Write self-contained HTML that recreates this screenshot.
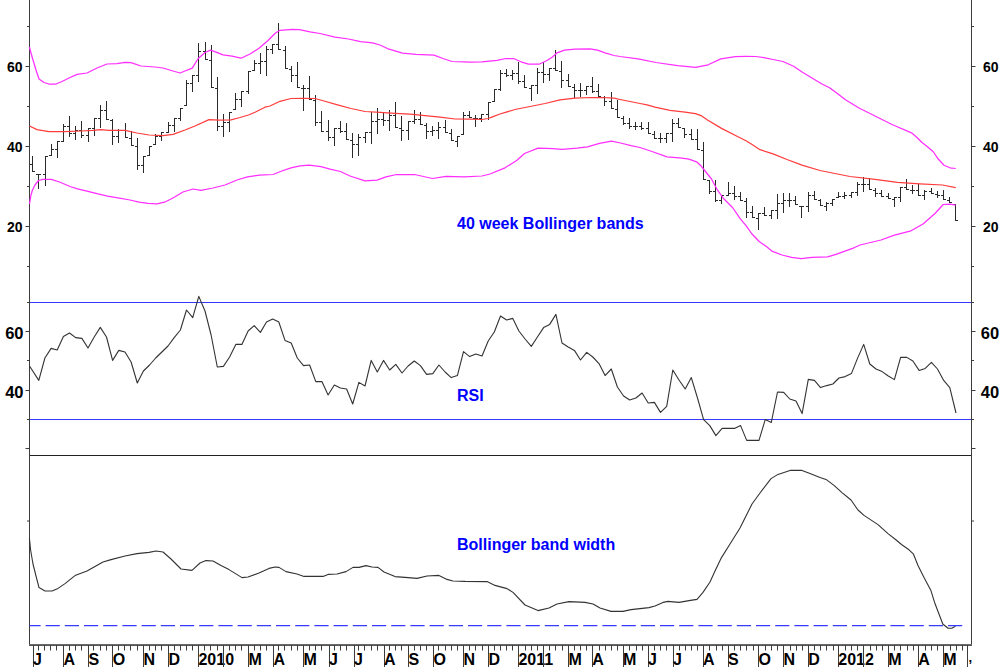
<!DOCTYPE html>
<html><head><meta charset="utf-8"><style>
html,body{margin:0;padding:0;background:#fff;width:1000px;height:667px;overflow:hidden}
svg{display:block}
text{font-family:"Liberation Sans",Arial,sans-serif;font-weight:bold;fill:#000}
.pl{font-size:14px}
.rl{font-size:16.5px}
.xl{font-size:16px}
.tt{font-size:16px;fill:#0000ff}
</style></head><body>
<svg width="1000" height="667" viewBox="0 0 1000 667">
<line x1="29.5" y1="0" x2="29.5" y2="644.5" stroke="#3c3c3c" stroke-width="1"/>
<line x1="971.5" y1="0" x2="971.5" y2="644.5" stroke="#3c3c3c" stroke-width="1"/>
<rect x="29" y="644" width="943" height="1" fill="#6a6a6a"/><rect x="29" y="645" width="943" height="1" fill="#555"/>
<line x1="30" y1="302.5" x2="971" y2="302.5" stroke="#3838ff" stroke-width="1"/>
<line x1="30" y1="419.5" x2="971" y2="419.5" stroke="#3838ff" stroke-width="1"/>
<line x1="30" y1="455.5" x2="971" y2="455.5" stroke="#222" stroke-width="1"/>
<text x="22.6" y="72.3" class="pl" text-anchor="end">60</text>
<text x="983" y="72.3" class="pl">60</text>
<text x="22.6" y="152.3" class="pl" text-anchor="end">40</text>
<text x="983" y="152.3" class="pl">40</text>
<text x="22.6" y="232.3" class="pl" text-anchor="end">20</text>
<text x="983" y="232.3" class="pl">20</text>
<line x1="27" y1="26.5" x2="29" y2="26.5" stroke="#3c3c3c"/><line x1="972" y1="26.5" x2="974" y2="26.5" stroke="#3c3c3c"/><line x1="25.5" y1="66.5" x2="29" y2="66.5" stroke="#3c3c3c"/><line x1="972" y1="66.5" x2="975.5" y2="66.5" stroke="#3c3c3c"/><line x1="27" y1="106.5" x2="29" y2="106.5" stroke="#3c3c3c"/><line x1="972" y1="106.5" x2="974" y2="106.5" stroke="#3c3c3c"/><line x1="25.5" y1="146.5" x2="29" y2="146.5" stroke="#3c3c3c"/><line x1="972" y1="146.5" x2="975.5" y2="146.5" stroke="#3c3c3c"/><line x1="27" y1="186.5" x2="29" y2="186.5" stroke="#3c3c3c"/><line x1="972" y1="186.5" x2="974" y2="186.5" stroke="#3c3c3c"/><line x1="25.5" y1="226.5" x2="29" y2="226.5" stroke="#3c3c3c"/><line x1="972" y1="226.5" x2="975.5" y2="226.5" stroke="#3c3c3c"/><line x1="27" y1="266.5" x2="29" y2="266.5" stroke="#3c3c3c"/><line x1="972" y1="266.5" x2="974" y2="266.5" stroke="#3c3c3c"/>
<line x1="27" y1="302.5" x2="29" y2="302.5" stroke="#3c3c3c"/>
<line x1="972" y1="302.5" x2="974" y2="302.5" stroke="#3c3c3c"/>
<line x1="25.5" y1="331.5" x2="29" y2="331.5" stroke="#3c3c3c"/>
<line x1="972" y1="331.5" x2="975.5" y2="331.5" stroke="#3c3c3c"/>
<text x="23.5" y="338.8" class="rl" text-anchor="end">60</text>
<text x="980.8" y="338.8" class="rl">60</text>
<line x1="27" y1="360.5" x2="29" y2="360.5" stroke="#3c3c3c"/>
<line x1="972" y1="360.5" x2="974" y2="360.5" stroke="#3c3c3c"/>
<line x1="25.5" y1="390.5" x2="29" y2="390.5" stroke="#3c3c3c"/>
<line x1="972" y1="390.5" x2="975.5" y2="390.5" stroke="#3c3c3c"/>
<text x="23.5" y="397.8" class="rl" text-anchor="end">40</text>
<text x="980.8" y="397.8" class="rl">40</text>
<line x1="27" y1="419.5" x2="29" y2="419.5" stroke="#3c3c3c"/>
<line x1="972" y1="419.5" x2="974" y2="419.5" stroke="#3c3c3c"/>
<line x1="25.5" y1="448.5" x2="29" y2="448.5" stroke="#3c3c3c"/>
<line x1="972" y1="448.5" x2="975.5" y2="448.5" stroke="#3c3c3c"/>
<line x1="27" y1="521" x2="29" y2="521" stroke="#3c3c3c"/><line x1="972" y1="521" x2="974" y2="521" stroke="#3c3c3c"/>
<line x1="33.5" y1="645" x2="33.5" y2="667" stroke="#3c3c3c"/>
<text x="33.00" y="665" class="xl">J</text>
<line x1="63.5" y1="645" x2="63.5" y2="667" stroke="#3c3c3c"/>
<text x="63.45" y="665" class="xl">A</text>
<line x1="88.5" y1="645" x2="88.5" y2="667" stroke="#3c3c3c"/>
<text x="88.45" y="665" class="xl">S</text>
<line x1="112.5" y1="645" x2="112.5" y2="667" stroke="#3c3c3c"/>
<text x="112.70" y="665" class="xl">O</text>
<line x1="143.5" y1="645" x2="143.5" y2="667" stroke="#3c3c3c"/>
<text x="143.45" y="665" class="xl">N</text>
<line x1="168.5" y1="645" x2="168.5" y2="667" stroke="#3c3c3c"/>
<text x="168.45" y="665" class="xl">D</text>
<line x1="198.5" y1="645" x2="198.5" y2="667" stroke="#3c3c3c"/>
<text x="198.45" y="665" class="xl">2010</text>
<line x1="223.5" y1="645" x2="223.5" y2="667" stroke="#3c3c3c"/>
<line x1="248.5" y1="645" x2="248.5" y2="667" stroke="#3c3c3c"/>
<text x="248.45" y="665" class="xl">M</text>
<line x1="273.5" y1="645" x2="273.5" y2="667" stroke="#3c3c3c"/>
<text x="273.45" y="665" class="xl">A</text>
<line x1="303.5" y1="645" x2="303.5" y2="667" stroke="#3c3c3c"/>
<text x="303.45" y="665" class="xl">M</text>
<line x1="329.5" y1="645" x2="329.5" y2="667" stroke="#3c3c3c"/>
<text x="328.95" y="665" class="xl">J</text>
<line x1="354.5" y1="645" x2="354.5" y2="667" stroke="#3c3c3c"/>
<text x="353.95" y="665" class="xl">J</text>
<line x1="384.5" y1="645" x2="384.5" y2="667" stroke="#3c3c3c"/>
<text x="383.95" y="665" class="xl">A</text>
<line x1="408.5" y1="645" x2="408.5" y2="667" stroke="#3c3c3c"/>
<text x="408.45" y="665" class="xl">S</text>
<line x1="433.5" y1="645" x2="433.5" y2="667" stroke="#3c3c3c"/>
<text x="433.45" y="665" class="xl">O</text>
<line x1="463.5" y1="645" x2="463.5" y2="667" stroke="#3c3c3c"/>
<text x="463.45" y="665" class="xl">N</text>
<line x1="488.5" y1="645" x2="488.5" y2="667" stroke="#3c3c3c"/>
<text x="488.45" y="665" class="xl">D</text>
<line x1="518.5" y1="645" x2="518.5" y2="667" stroke="#3c3c3c"/>
<text x="518.45" y="665" class="xl">2011</text>
<line x1="543.5" y1="645" x2="543.5" y2="667" stroke="#3c3c3c"/>
<line x1="568.5" y1="645" x2="568.5" y2="667" stroke="#3c3c3c"/>
<text x="568.45" y="665" class="xl">M</text>
<line x1="592.5" y1="645" x2="592.5" y2="667" stroke="#3c3c3c"/>
<text x="592.20" y="665" class="xl">A</text>
<line x1="623.5" y1="645" x2="623.5" y2="667" stroke="#3c3c3c"/>
<text x="622.95" y="665" class="xl">M</text>
<line x1="648.5" y1="645" x2="648.5" y2="667" stroke="#3c3c3c"/>
<text x="647.95" y="665" class="xl">J</text>
<line x1="673.5" y1="645" x2="673.5" y2="667" stroke="#3c3c3c"/>
<text x="672.95" y="665" class="xl">J</text>
<line x1="703.5" y1="645" x2="703.5" y2="667" stroke="#3c3c3c"/>
<text x="702.95" y="665" class="xl">A</text>
<line x1="728.5" y1="645" x2="728.5" y2="667" stroke="#3c3c3c"/>
<text x="727.95" y="665" class="xl">S</text>
<line x1="758.5" y1="645" x2="758.5" y2="667" stroke="#3c3c3c"/>
<text x="758.45" y="665" class="xl">O</text>
<line x1="783.5" y1="645" x2="783.5" y2="667" stroke="#3c3c3c"/>
<text x="783.45" y="665" class="xl">N</text>
<line x1="808.5" y1="645" x2="808.5" y2="667" stroke="#3c3c3c"/>
<text x="808.30" y="665" class="xl">D</text>
<line x1="838.5" y1="645" x2="838.5" y2="667" stroke="#3c3c3c"/>
<text x="838.30" y="665" class="xl">2012</text>
<line x1="863.5" y1="645" x2="863.5" y2="667" stroke="#3c3c3c"/>
<line x1="888.5" y1="645" x2="888.5" y2="667" stroke="#3c3c3c"/>
<text x="888.30" y="665" class="xl">M</text>
<line x1="918.5" y1="645" x2="918.5" y2="667" stroke="#3c3c3c"/>
<text x="918.30" y="665" class="xl">A</text>
<line x1="943.5" y1="645" x2="943.5" y2="667" stroke="#3c3c3c"/>
<text x="943.30" y="665" class="xl">M</text>
<line x1="967.5" y1="645" x2="967.5" y2="667" stroke="#3c3c3c"/>
<path d="M38.5 645V650.5 M44.5 645V650.5 M50.5 645V650.5 M56.5 645V650.5 M69.5 645V650.5 M75.5 645V650.5 M81.5 645V650.5 M93.5 645V650.5 M100.5 645V650.5 M106.5 645V650.5 M118.5 645V650.5 M124.5 645V650.5 M130.5 645V650.5 M137.5 645V650.5 M149.5 645V650.5 M155.5 645V650.5 M161.5 645V650.5 M174.5 645V650.5 M180.5 645V650.5 M186.5 645V650.5 M192.5 645V650.5 M204.5 645V650.5 M210.5 645V650.5 M217.5 645V650.5 M229.5 645V650.5 M235.5 645V650.5 M241.5 645V650.5 M254.5 645V650.5 M260.5 645V650.5 M266.5 645V650.5 M278.5 645V650.5 M284.5 645V650.5 M291.5 645V650.5 M297.5 645V650.5 M309.5 645V650.5 M315.5 645V650.5 M321.5 645V650.5 M334.5 645V650.5 M340.5 645V650.5 M346.5 645V650.5 M358.5 645V650.5 M364.5 645V650.5 M371.5 645V650.5 M377.5 645V650.5 M389.5 645V650.5 M395.5 645V650.5 M401.5 645V650.5 M414.5 645V650.5 M420.5 645V650.5 M426.5 645V650.5 M438.5 645V650.5 M445.5 645V650.5 M451.5 645V650.5 M457.5 645V650.5 M469.5 645V650.5 M475.5 645V650.5 M482.5 645V650.5 M494.5 645V650.5 M500.5 645V650.5 M506.5 645V650.5 M512.5 645V650.5 M525.5 645V650.5 M531.5 645V650.5 M537.5 645V650.5 M549.5 645V650.5 M555.5 645V650.5 M562.5 645V650.5 M574.5 645V650.5 M580.5 645V650.5 M586.5 645V650.5 M599.5 645V650.5 M605.5 645V650.5 M611.5 645V650.5 M617.5 645V650.5 M629.5 645V650.5 M636.5 645V650.5 M642.5 645V650.5 M654.5 645V650.5 M660.5 645V650.5 M666.5 645V650.5 M679.5 645V650.5 M685.5 645V650.5 M691.5 645V650.5 M697.5 645V650.5 M709.5 645V650.5 M716.5 645V650.5 M722.5 645V650.5 M734.5 645V650.5 M740.5 645V650.5 M746.5 645V650.5 M753.5 645V650.5 M765.5 645V650.5 M771.5 645V650.5 M777.5 645V650.5 M790.5 645V650.5 M796.5 645V650.5 M802.5 645V650.5 M814.5 645V650.5 M820.5 645V650.5 M826.5 645V650.5 M833.5 645V650.5 M845.5 645V650.5 M851.5 645V650.5 M857.5 645V650.5 M870.5 645V650.5 M876.5 645V650.5 M882.5 645V650.5 M894.5 645V650.5 M900.5 645V650.5 M907.5 645V650.5 M913.5 645V650.5 M925.5 645V650.5 M931.5 645V650.5 M937.5 645V650.5 M950.5 645V650.5 M956.5 645V650.5 M962.5 645V650.5" stroke="#3c3c3c" stroke-width="1" fill="none"/>
<text x="968.6" y="662.3" class="xl" style="font-size:13px">,</text>
<path d="M32.5 156V172M30.0 164.5H32.5M32.5 171.5H35.0M38.5 174V189M36.0 174.5H38.5M38.5 174.5H41.0M45.5 156V186M43.0 174.5H45.5M45.5 156.5H48.0M51.5 144V156M49.0 155.5H51.5M51.5 149.5H54.0M57.5 141V158M55.0 149.5H57.5M57.5 141.5H60.0M63.5 124V142M61.0 141.5H63.5M63.5 126.5H66.0M69.5 116V137M67.0 126.5H69.5M69.5 133.5H72.0M75.5 126V140M73.0 133.5H75.5M75.5 130.5H78.0M81.5 121V138M79.0 130.5H81.5M81.5 135.5H84.0M88.5 128V142M86.0 135.5H88.5M88.5 128.5H91.0M94.5 118V136M92.0 128.5H94.5M94.5 118.5H97.0M100.5 105V128M98.0 118.5H100.5M100.5 110.5H103.0M106.5 101V120M104.0 110.5H106.5M106.5 119.5H109.0M112.5 119V145M110.0 120.5H112.5M112.5 136.5H115.0M118.5 129V143M116.0 136.5H118.5M118.5 130.5H121.0M125.5 123V138M123.0 130.5H125.5M125.5 137.5H128.0M131.5 131V146M129.0 138.5H131.5M131.5 145.5H134.0M137.5 138V170M135.0 146.5H137.5M137.5 165.5H140.0M143.5 156V173M141.0 165.5H143.5M143.5 156.5H146.0M149.5 146V156M147.0 155.5H149.5M149.5 146.5H152.0M155.5 134V145M153.0 144.5H155.5M155.5 136.5H158.0M161.5 132V141M159.0 136.5H161.5M161.5 132.5H164.0M168.5 122V133M166.0 132.5H168.5M168.5 125.5H171.0M174.5 118V132M172.0 125.5H174.5M174.5 118.5H177.0M180.5 108V121M178.0 118.5H180.5M180.5 108.5H183.0M186.5 80V106M184.0 105.5H186.5M186.5 83.5H189.0M192.5 75V92M190.0 83.5H192.5M192.5 75.5H195.0M198.5 43V82M196.0 75.5H198.5M198.5 51.5H201.0M205.5 42V60M203.0 51.5H205.5M205.5 59.5H208.0M211.5 45V88M209.0 60.5H211.5M211.5 87.5H214.0M217.5 77V131M215.0 88.5H217.5M217.5 126.5H220.0M223.5 114V137M221.0 126.5H223.5M223.5 122.5H226.0M229.5 112V132M227.0 122.5H229.5M229.5 112.5H232.0M235.5 93V110M233.0 109.5H235.5M235.5 99.5H238.0M241.5 91V107M239.0 99.5H241.5M241.5 91.5H244.0M248.5 71V94M246.0 91.5H248.5M248.5 71.5H251.0M254.5 60V71M252.0 70.5H254.5M254.5 63.5H257.0M260.5 53V74M258.0 63.5H260.5M260.5 61.5H263.0M266.5 46V76M264.0 61.5H266.5M266.5 49.5H269.0M272.5 44V54M270.0 49.5H272.5M272.5 44.5H275.0M278.5 23V50M276.0 44.5H278.5M278.5 49.5H281.0M285.5 46V69M283.0 50.5H285.5M285.5 68.5H288.0M291.5 66V82M289.0 69.5H291.5M291.5 75.5H294.0M297.5 62V88M295.0 75.5H297.5M297.5 87.5H300.0M303.5 85V111M301.0 88.5H303.5M303.5 88.5H306.0M309.5 76V100M307.0 88.5H309.5M309.5 99.5H312.0M315.5 95V126M313.0 100.5H315.5M315.5 122.5H318.0M321.5 111V132M319.0 122.5H321.5M321.5 131.5H324.0M328.5 120V141M326.0 131.5H328.5M328.5 137.5H331.0M334.5 128V146M332.0 137.5H334.5M334.5 128.5H337.0M340.5 121V133M338.0 128.5H340.5M340.5 131.5H343.0M346.5 123V140M344.0 131.5H346.5M346.5 139.5H349.0M352.5 133V158M350.0 140.5H352.5M352.5 144.5H355.0M358.5 134V156M356.0 144.5H358.5M358.5 137.5H361.0M365.5 132V143M363.0 137.5H365.5M365.5 132.5H368.0M371.5 112V144M369.0 132.5H371.5M371.5 121.5H374.0M377.5 108V134M375.0 121.5H377.5M377.5 119.5H380.0M383.5 112V126M381.0 119.5H383.5M383.5 120.5H386.0M389.5 110V131M387.0 120.5H389.5M389.5 115.5H392.0M395.5 102V128M393.0 115.5H395.5M395.5 127.5H398.0M401.5 116V141M399.0 128.5H401.5M401.5 130.5H404.0M408.5 121V140M406.0 130.5H408.5M408.5 121.5H411.0M414.5 110V124M412.0 121.5H414.5M414.5 119.5H417.0M420.5 112V125M418.0 119.5H420.5M420.5 124.5H423.0M426.5 123V139M424.0 125.5H426.5M426.5 131.5H429.0M432.5 126V136M430.0 131.5H432.5M432.5 130.5H435.0M438.5 122V139M436.0 130.5H438.5M438.5 127.5H441.0M445.5 120V133M443.0 127.5H445.5M445.5 132.5H448.0M451.5 129V141M449.0 133.5H451.5M451.5 140.5H454.0M457.5 136V147M455.0 141.5H457.5M457.5 136.5H460.0M463.5 112V135M461.0 134.5H463.5M463.5 115.5H466.0M469.5 111V118M467.0 115.5H469.5M469.5 117.5H472.0M475.5 115V127M473.0 118.5H475.5M475.5 118.5H478.0M481.5 114V122M479.0 118.5H481.5M481.5 114.5H484.0M488.5 102V120M486.0 114.5H488.5M488.5 102.5H491.0M494.5 89V102M492.0 101.5H494.5M494.5 89.5H497.0M500.5 70V91M498.0 89.5H500.5M500.5 73.5H503.0M506.5 69V77M504.0 73.5H506.5M506.5 75.5H509.0M512.5 70V80M510.0 75.5H512.5M512.5 73.5H515.0M518.5 62V84M516.0 73.5H518.5M518.5 81.5H521.0M524.5 75V88M522.0 81.5H524.5M524.5 87.5H527.0M531.5 85V101M529.0 88.5H531.5M531.5 85.5H534.0M537.5 68V94M535.0 85.5H537.5M537.5 72.5H540.0M543.5 62V83M541.0 72.5H543.5M543.5 74.5H546.0M549.5 68V81M547.0 74.5H549.5M549.5 68.5H552.0M555.5 50V71M553.0 68.5H555.5M555.5 70.5H558.0M561.5 61V88M559.0 71.5H561.5M561.5 80.5H564.0M568.5 74V87M566.0 80.5H568.5M568.5 86.5H571.0M574.5 84V98M572.0 87.5H574.5M574.5 90.5H577.0M580.5 83V97M578.0 90.5H580.5M580.5 90.5H583.0M586.5 86V95M584.0 90.5H586.5M586.5 86.5H589.0M592.5 77V93M590.0 86.5H592.5M592.5 91.5H595.0M598.5 84V97M596.0 91.5H598.5M598.5 96.5H601.0M604.5 96V106M602.0 97.5H604.5M604.5 101.5H607.0M611.5 92V109M609.0 101.5H611.5M611.5 108.5H614.0M617.5 100V118M615.0 109.5H617.5M617.5 117.5H620.0M623.5 116V125M621.0 118.5H623.5M623.5 123.5H626.0M629.5 118V129M627.0 123.5H629.5M629.5 126.5H632.0M635.5 122V130M633.0 126.5H635.5M635.5 126.5H638.0M641.5 122V130M639.0 126.5H641.5M641.5 128.5H644.0M648.5 122V134M646.0 128.5H648.5M648.5 133.5H651.0M654.5 131V139M652.0 134.5H654.5M654.5 138.5H657.0M660.5 133V143M658.0 138.5H660.5M660.5 138.5H663.0M666.5 133V143M664.0 138.5H666.5M666.5 133.5H669.0M672.5 119V142M670.0 133.5H672.5M672.5 123.5H675.0M678.5 118V128M676.0 123.5H678.5M678.5 127.5H681.0M684.5 128V138M682.0 128.5H684.5M684.5 134.5H687.0M691.5 129V140M689.0 134.5H691.5M691.5 139.5H694.0M697.5 129V150M695.0 139.5H697.5M697.5 149.5H700.0M703.5 142V180M701.0 150.5H703.5M703.5 179.5H706.0M709.5 180V194M707.0 180.5H709.5M709.5 191.5H712.0M715.5 180V202M713.0 191.5H715.5M715.5 200.5H718.0M721.5 195V204M719.0 200.5H721.5M721.5 195.5H724.0M728.5 182V196M726.0 195.5H728.5M728.5 193.5H731.0M734.5 186V200M732.0 193.5H734.5M734.5 196.5H737.0M740.5 192V201M738.0 196.5H740.5M740.5 200.5H743.0M746.5 198V218M744.0 201.5H746.5M746.5 212.5H749.0M752.5 206V218M750.0 212.5H752.5M752.5 217.5H755.0M758.5 213V230M756.0 218.5H758.5M758.5 213.5H761.0M764.5 207V216M762.0 213.5H764.5M764.5 215.5H767.0M771.5 210V219M769.0 215.5H771.5M771.5 210.5H774.0M777.5 194V219M775.0 210.5H777.5M777.5 203.5H780.0M783.5 193V213M781.0 203.5H783.5M783.5 200.5H786.0M789.5 193V207M787.0 200.5H789.5M789.5 200.5H792.0M795.5 196V205M793.0 200.5H795.5M795.5 204.5H798.0M801.5 206V218M799.0 206.5H801.5M801.5 206.5H804.0M808.5 192V212M806.0 206.5H808.5M808.5 195.5H811.0M814.5 191V200M812.0 195.5H814.5M814.5 199.5H817.0M820.5 199V206M818.0 200.5H820.5M820.5 205.5H823.0M826.5 202V211M824.0 206.5H826.5M826.5 203.5H829.0M832.5 199V206M830.0 203.5H832.5M832.5 199.5H835.0M838.5 192V198M836.0 197.5H838.5M838.5 196.5H841.0M844.5 192V199M842.0 196.5H844.5M844.5 195.5H847.0M851.5 192V198M849.0 195.5H851.5M851.5 192.5H854.0M857.5 182V196M855.0 192.5H857.5M857.5 184.5H860.0M863.5 177V192M861.0 184.5H863.5M863.5 184.5H866.0M869.5 178V190M867.0 184.5H869.5M869.5 189.5H872.0M875.5 188V197M873.0 190.5H875.5M875.5 193.5H878.0M881.5 190V197M879.0 193.5H881.5M881.5 196.5H884.0M888.5 193V199M886.0 196.5H888.5M888.5 198.5H891.0M894.5 197V207M892.0 199.5H894.5M894.5 197.5H897.0M900.5 187V202M898.0 197.5H900.5M900.5 187.5H903.0M906.5 179V190M904.0 187.5H906.5M906.5 189.5H909.0M912.5 185V194M910.0 190.5H912.5M912.5 190.5H915.0M918.5 184V196M916.0 190.5H918.5M918.5 195.5H921.0M924.5 190V200M922.0 195.5H924.5M924.5 191.5H927.0M931.5 188V194M929.0 191.5H931.5M931.5 193.5H934.0M937.5 191V198M935.0 194.5H937.5M937.5 195.5H940.0M943.5 190V200M941.0 195.5H943.5M943.5 199.5H946.0M949.5 197V203M947.0 200.5H949.5M949.5 202.5H952.0M955.5 204V221M953.0 204.5H955.5M955.5 220.5H958.0" stroke="#2a2a2a" stroke-width="1" fill="none"/>
<polyline points="29.4,47.0 31.0,53.0 33.0,60.0 36.0,70.0 39.0,79.0 44.0,82.5 49.0,84.0 56.0,84.0 62.0,81.5 69.0,78.0 77.0,74.4 87.0,73.0 97.0,68.0 107.0,64.0 117.0,63.6 125.0,62.4 131.0,62.6 141.0,66.0 155.0,67.0 163.0,68.0 173.0,71.0 180.0,73.0 185.0,71.0 192.2,68.2 198.2,58.5 205.0,52.5 210.5,50.2 215.5,51.8 223.0,54.8 232.0,56.2 241.0,58.2 250.0,54.0 259.0,48.3 268.0,40.5 275.5,33.0 280.0,30.3 292.0,29.4 299.5,29.7 310.0,31.8 320.0,33.5 335.0,37.2 348.5,39.0 360.5,41.7 372.5,42.8 380.0,45.0 389.0,49.2 402.5,53.2 416.0,54.3 434.0,55.2 443.0,58.5 452.0,61.5 464.0,61.8 470.0,62.2 482.0,61.8 497.0,60.3 506.0,58.5 513.5,58.5 521.0,61.8 528.5,64.2 539.0,64.2 546.5,60.8 552.5,57.0 557.0,52.8 564.5,50.2 575.0,49.2 590.0,48.8 597.5,50.2 605.0,52.8 614.0,55.5 620.0,56.5 638.0,58.9 656.0,62.5 677.6,65.6 695.6,67.4 708.2,64.8 720.8,58.9 735.2,56.6 746.0,56.3 756.0,56.5 765.0,57.8 773.0,59.5 783.0,61.5 794.0,66.5 802.0,72.0 812.0,78.0 822.0,84.0 830.0,88.0 838.0,94.0 845.5,99.8 859.0,108.0 877.0,117.0 892.0,124.5 911.5,132.8 917.0,137.5 922.0,142.5 927.5,146.8 933.5,152.0 938.0,158.8 944.0,165.2 950.0,167.8 955.7,168.5" stroke="#ff2eff" stroke-width="1.25" fill="none" stroke-linejoin="round"/>
<polyline points="29.5,204.0 31.0,195.0 32.5,190.0 35.0,185.0 38.5,180.5 43.0,179.3 51.2,179.3 59.5,182.0 70.0,186.5 77.5,188.8 88.0,191.3 97.0,193.7 107.5,196.2 118.0,197.8 130.0,200.0 139.0,202.2 148.0,203.3 157.0,203.8 164.5,202.2 170.5,199.2 175.0,196.7 183.0,192.0 193.0,189.0 201.0,190.4 213.0,188.0 225.0,185.0 237.0,180.0 247.5,176.8 259.5,175.2 273.0,174.5 280.5,171.5 291.0,167.8 300.0,165.8 309.0,165.2 321.0,166.7 330.0,169.2 340.5,171.5 350.0,176.0 365.0,180.8 377.0,180.2 386.0,176.8 396.5,174.5 414.5,174.5 432.5,178.5 446.0,176.3 464.0,176.8 482.0,176.0 490.0,174.0 505.0,167.8 517.0,160.2 524.5,153.5 538.0,148.2 553.0,148.7 562.0,149.3 577.0,148.2 587.5,146.8 599.5,143.3 611.5,141.2 620.5,143.0 631.0,145.7 640.0,147.5 652.0,151.5 667.0,156.8 682.0,158.2 689.0,159.2 696.5,161.8 701.0,165.8 705.5,171.5 711.5,179.0 717.5,190.2 723.5,198.5 732.5,207.5 740.0,218.4 746.0,225.6 752.0,234.0 759.2,241.5 766.4,246.6 772.4,251.4 782.0,255.0 791.6,257.4 801.2,258.6 812.0,257.4 827.6,256.8 836.0,254.4 845.6,250.8 854.0,247.8 860.0,245.0 881.0,240.0 894.5,235.2 911.0,230.8 923.0,224.0 935.0,213.5 943.2,204.5 950.0,204.2 955.7,205.2" stroke="#ff2eff" stroke-width="1.25" fill="none" stroke-linejoin="round"/>
<polyline points="29.5,126.0 37.0,129.6 49.0,131.6 65.0,131.6 81.0,131.0 93.0,130.4 101.0,129.6 109.0,130.4 125.0,130.4 137.0,133.0 149.0,135.0 163.0,135.6 173.0,134.4 185.0,130.0 195.0,126.0 209.0,119.6 219.0,120.2 231.0,119.8 240.0,117.5 248.5,115.0 255.0,112.2 265.0,107.2 270.0,106.0 280.0,101.3 291.0,98.5 303.0,98.3 315.0,98.5 324.0,101.0 337.5,104.8 351.0,108.5 365.0,111.5 380.0,112.4 395.0,113.3 410.0,114.2 425.0,115.7 440.0,117.2 455.0,119.0 470.0,119.1 482.0,119.5 488.0,118.5 492.5,116.8 500.0,114.0 515.0,109.5 530.0,106.5 545.0,103.5 560.0,99.8 575.0,98.2 590.0,97.5 602.0,97.5 614.0,98.2 620.0,99.5 625.0,100.5 640.0,103.5 647.0,104.8 655.0,107.2 670.0,110.4 685.0,112.2 695.5,113.7 701.0,115.6 707.5,120.0 721.5,128.4 737.5,136.5 746.0,140.8 752.5,144.8 760.0,149.7 773.0,153.8 787.0,159.5 802.0,165.2 820.0,170.5 830.0,172.5 850.0,176.5 875.0,179.3 897.5,182.3 920.0,183.8 942.5,185.0 955.7,187.7" stroke="#ff3c3c" stroke-width="1.25" fill="none" stroke-linejoin="round"/>
<polyline points="29.5,366.0 38.8,380.4 44.9,358.0 51.1,348.4 57.2,350.0 63.4,336.4 69.5,333.0 75.7,337.6 81.9,338.4 88.0,348.0 94.2,337.0 100.3,327.4 106.5,337.0 112.6,360.4 118.8,350.4 125.0,352.0 131.1,362.0 137.3,383.0 143.4,371.0 149.6,365.0 155.7,358.0 161.9,352.0 168.0,346.0 174.2,337.6 180.4,330.0 186.5,310.0 192.7,317.6 198.8,296.4 205.0,311.0 211.1,335.0 217.3,367.0 223.4,366.4 229.6,357.0 235.8,344.4 241.9,344.4 248.1,331.0 254.2,325.6 260.4,332.4 266.5,322.0 272.7,319.0 278.8,322.0 285.0,340.4 291.2,343.0 297.3,358.0 303.5,365.6 309.6,365.0 315.8,381.6 321.9,381.6 328.1,395.0 334.3,385.0 340.4,388.0 346.6,389.0 352.7,404.0 358.9,382.4 365.0,386.0 371.2,360.4 377.3,372.0 383.5,360.4 389.7,370.0 395.8,364.4 402.0,373.0 408.1,366.0 414.3,361.0 420.4,365.6 426.6,374.4 432.8,373.6 438.9,365.0 445.1,372.0 451.2,377.6 457.4,375.6 463.5,351.6 469.7,356.6 475.8,354.0 482.0,356.0 488.2,341.0 494.3,332.0 500.5,316.0 506.6,320.0 512.8,318.4 518.9,331.0 525.1,339.0 531.3,346.4 537.4,337.0 543.6,327.6 549.7,324.4 555.9,314.4 562.0,343.0 568.2,347.0 574.4,350.4 580.5,360.0 586.7,352.4 592.8,357.0 599.0,363.6 605.1,375.6 611.3,369.0 617.4,387.0 623.6,396.0 629.7,400.0 635.9,398.0 642.1,393.0 648.2,403.0 654.4,402.4 660.5,412.4 666.7,406.4 672.8,370.0 679.0,380.0 685.2,389.0 691.3,377.6 697.5,398.0 703.6,419.6 709.8,425.6 715.9,435.6 722.1,428.4 728.2,428.4 734.4,428.4 740.6,425.6 746.7,440.4 752.9,440.4 759.0,440.4 765.2,419.6 771.3,422.4 777.5,392.0 783.7,392.4 789.8,399.0 796.0,401.0 802.1,413.6 808.3,379.4 814.4,380.4 820.6,387.6 826.7,385.6 832.9,384.0 839.0,378.0 845.2,376.6 851.4,373.6 857.5,358.4 863.7,344.4 869.8,364.0 876.0,369.0 882.1,371.6 888.3,376.0 894.4,379.6 900.6,357.4 906.8,357.4 912.9,361.0 919.1,370.4 925.2,368.4 931.4,362.4 937.5,369.0 943.7,380.4 949.8,387.6 956.0,413.0" stroke="#333" stroke-width="1.1" fill="none" stroke-linejoin="round"/>
<polyline points="29.4,538.0 30.6,550.0 33.0,564.0 36.0,576.0 39.0,587.6 45.0,591.0 52.0,591.0 58.0,588.4 65.0,583.6 75.0,575.6 87.0,571.0 95.0,566.4 103.0,562.0 111.0,559.6 125.0,556.0 137.0,553.6 149.0,552.4 156.0,551.0 163.0,552.0 171.0,559.0 181.0,569.0 192.0,570.4 200.0,563.0 206.0,560.6 213.0,561.0 221.0,565.6 229.0,569.6 242.0,577.6 248.0,577.0 259.0,573.0 269.0,568.4 275.0,567.0 279.0,567.4 286.0,571.6 297.0,574.0 304.0,576.4 323.0,576.4 328.0,574.4 337.0,574.0 346.0,571.6 353.0,567.4 359.0,567.4 366.0,565.6 372.0,567.0 378.0,567.4 384.0,572.0 395.0,576.6 405.0,577.4 417.0,578.4 427.0,576.0 439.0,575.4 447.0,579.4 453.0,581.0 465.0,581.4 487.0,581.6 495.0,585.4 507.0,588.6 513.0,592.4 525.0,605.0 538.0,610.6 549.0,608.0 557.0,604.0 569.0,601.6 585.0,602.4 593.0,604.0 600.0,608.0 611.0,611.4 623.0,611.4 631.0,609.6 649.0,607.6 655.0,606.0 663.0,602.4 668.0,601.4 679.0,602.4 689.0,600.6 697.0,599.4 703.0,592.4 710.0,582.0 715.0,571.0 721.0,558.4 730.0,544.0 740.0,528.0 752.0,504.0 760.0,493.0 771.0,478.6 778.0,474.4 790.0,470.4 802.0,470.4 810.0,473.4 820.0,477.4 826.0,479.4 834.0,485.4 842.0,492.6 851.0,500.0 858.0,510.0 864.0,515.4 878.0,524.6 888.0,533.6 896.2,540.0 901.5,544.5 909.0,549.8 913.5,554.2 918.0,565.5 924.0,577.5 930.8,590.2 934.5,602.2 938.2,612.0 942.8,624.0 948.0,628.2 951.8,628.2 955.5,626.2" stroke="#333" stroke-width="1.1" fill="none" stroke-linejoin="round"/>
<text x="457" y="229" class="tt">40 week Bollinger bands</text>
<text x="457" y="400.5" class="tt">RSI</text>
<text x="457" y="549.5" class="tt">Bollinger band width</text>
<line x1="29.5" y1="625.6" x2="962.3" y2="625.6" stroke="#3a3aff" stroke-width="1.4" stroke-dasharray="14.2 5" stroke-dashoffset="3.1"/>
</svg>
</body></html>
